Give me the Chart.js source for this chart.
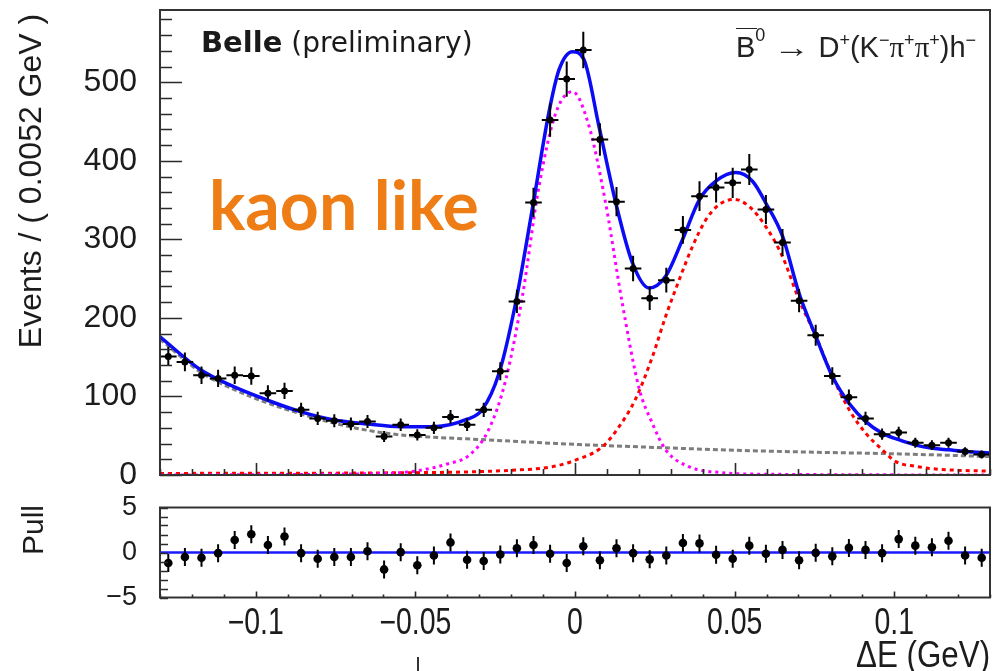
<!DOCTYPE html>
<html>
<head>
<meta charset="utf-8">
<script src="https://cdn.jsdelivr.net/npm/chart.js@4.4.1/dist/chart.umd.min.js"></script>
<style>
    body { margin: 0; background: #fff; }
    #page { position: relative; width: 997px; height: 671px; overflow: hidden; background: #fff;
            font-family: "Liberation Sans", Arial, sans-serif; color: #1c1c1c; }
    canvas { position: absolute; left: 0; }
    #mainCanvas { top: 0; }
    #pullCanvas { top: 495px; }
    .rot { position: absolute; white-space: nowrap; line-height: 1;
           transform: translate(-50%, -50%) rotate(-90deg); }
    #belle { position: absolute; left: 201px; top: 28px; font-family: "DejaVu Sans"; font-size: 28px; line-height: 1; white-space: nowrap; color: #1a1a1a; }
    #belle b { font-size: 29px; }
    #decay { position: absolute; left: 736px; top: 32.5px; font-size: 29px; line-height: 1; white-space: nowrap; color: #222; }
    #decay sup { font-size: 18px; vertical-align: 11px; line-height: 0; }
    #decay sup.hi { vertical-align: 16px; }
    #decay .arrow { display: inline-block; transform: scaleX(1.25); margin: 0 4px; }
    #decay .pi { font-family: "Liberation Serif"; }
    #decay .ovl { position: relative; }
    #decay .ovl::before { content: ""; position: absolute; left: 0; right: -2px; top: -3px; border-top: 1.5px solid #222; }
    #kaon { position: absolute; left: 209px; top: 170px; font-family: Lato; font-weight: 700; font-size: 68px; line-height: 1; color: #ED7D14; white-space: nowrap; }
    #xtitle { position: absolute; right: 7px; top: 636.5px; font-size: 36px; line-height: 1; white-space: nowrap;
              transform: scaleX(0.87); transform-origin: right top; }
    #stray { position: absolute; left: 417px; top: 657px; width: 1.5px; height: 14px; background: #333; }
</style>
</head>
<body>
<div id="page">
    <canvas id="mainCanvas" width="997" height="490"></canvas>
    <canvas id="pullCanvas" width="997" height="176"></canvas>

    <div class="rot" style="left:30px; top:181px; font-size:32px;">Events / ( 0.0052 GeV )</div>
    <div class="rot" style="left:33px; top:530px; font-size:30px;">Pull</div>

    <div id="belle"><b>Belle</b> (preliminary)</div>
    <div id="decay"><span class="ovl">B</span><sup class="hi">0</sup> <span class="arrow">&rarr;</span> D<sup>+</sup>(K<sup>&minus;</sup><span class="pi">&pi;</span><sup>+</sup><span class="pi">&pi;</span><sup>+</sup>)h<sup>&minus;</sup></div>
    <div id="kaon">kaon like</div>
    <div id="xtitle">&Delta;E (GeV)</div>
    <div id="stray"></div>
</div>

<script>
/* ---------------------------------------------------
   Data
---------------------------------------------------*/

const BIN_WIDTH = 0.0052;
const X_MIN = -0.13;
const X_MAX = 0.13;

const xTickValues = [-0.1, -0.05, 0, 0.05, 0.1];
const mainYTickValues = [0, 100, 200, 300, 400, 500];
const pullYTickValues = [-5, 0, 5];

const binCenters = [
    -0.1274, -0.1222, -0.1170, -0.1118, -0.1066, -0.1014, -0.0962, -0.0910, -0.0858, -0.0806,
    -0.0754, -0.0702, -0.0650, -0.0598, -0.0546, -0.0494, -0.0442, -0.0390, -0.0338, -0.0286,
    -0.0234, -0.0182, -0.0130, -0.0078, -0.0026, 0.0026, 0.0078, 0.0130, 0.0182, 0.0234,
    0.0286, 0.0338, 0.0390, 0.0442, 0.0494, 0.0546, 0.0598, 0.0650, 0.0702, 0.0754,
    0.0806, 0.0858, 0.0910, 0.0962, 0.1014, 0.1066, 0.1118, 0.1170, 0.1222, 0.1274
];

const events = [
    151, 144, 127, 123, 127, 126, 104, 107, 83, 72,
    69, 65, 68, 49, 64, 51, 60, 74, 64, 83,
    132, 221, 347, 452, 504, 541, 427, 348, 263, 225,
    248, 312, 355, 366, 372, 389, 338, 296, 222, 178,
    126, 99, 72, 52, 54, 41, 38, 41, 30, 26
];

const pulls = [
    -1.16, -0.50, -0.58, -0.07, 1.38, 2.03, 0.83, 1.78, -0.07, -0.69,
    -0.50, -0.50, 0.14, -1.88, 0.04, -1.41, -0.33, 1.12, -0.80, -0.94,
    -0.22, 0.47, 0.83, -0.14, -1.16, 0.69, -0.87, 0.47, -0.07, -0.76,
    -0.33, 1.05, 1.01, -0.25, -0.69, 0.76, -0.14, 0.29, -0.87, -0.04,
    -0.43, 0.51, 0.29, -0.07, 1.49, 0.76, 0.58, 1.30, -0.33, -0.58
];

// total fit (solid blue)
const totalX = [
    -0.13, -0.1173, -0.1069, -0.0965, -0.086, -0.0755, -0.0651, -0.0546, -0.0442, -0.0338,
    -0.0291, -0.0238, -0.0186, -0.0134, -0.0082, -0.005, -0.0008, 0.0028, 0.0075, 0.0128,
    0.018, 0.0232, 0.0284, 0.0336, 0.0389, 0.0441, 0.0504, 0.0556, 0.0598, 0.065,
    0.0702, 0.0755, 0.0807, 0.0859, 0.0911, 0.0963, 0.1016, 0.1068, 0.112, 0.1172,
    0.1224, 0.13
];
const totalY = [
    176, 134, 112.5, 95.5, 80.6, 70, 65, 61.5, 61.5, 71,
    83, 129.5, 219, 338, 461, 516, 539, 529, 444, 346,
    270, 238, 253, 299, 350, 374, 385, 374, 346, 304,
    231, 176, 125, 91, 68, 53, 44.6, 38, 34, 32,
    30, 28
];

// signal component (magenta dotted)
const signalX = [
    -0.13, -0.06, -0.05, -0.04, -0.0332, -0.027, -0.0217, -0.0165, -0.0113, -0.006,
    -0.0008, 0.0044, 0.0096, 0.0148, 0.0201, 0.0242, 0.0284, 0.0357, 0.0462, 0.06, 0.13
];
const signalY = [
    0, 2, 5, 14, 25, 58, 121, 227, 367, 461,
    488, 444, 346, 219, 110, 66, 32, 10.6, 3, 1, 0
];

// feed-across peak (red dashed)
const feedX = [
    -0.13, -0.05, -0.02, -0.0071, 0.0002, 0.0086, 0.0138, 0.019, 0.0242, 0.0284,
    0.0326, 0.0368, 0.041, 0.0451, 0.0498, 0.0545, 0.0598, 0.065, 0.0702, 0.0755,
    0.0807, 0.0859, 0.0911, 0.0963, 0.1005, 0.1068, 0.112, 0.12, 0.13
];
const feedY = [
    2, 3, 6, 10.6, 19, 36, 61.5, 97, 150, 202,
    248, 291, 325, 344, 351, 342, 316, 278, 223, 176,
    125, 83, 53, 32, 17, 11, 8, 6, 5
];

// combinatorial background (grey dashed)
const bkgX = [
    -0.13, -0.1173, -0.1069, -0.0965, -0.086, -0.0755, -0.0651, -0.0546, -0.0442, -0.0338,
    -0.0243, -0.01, 0.0, 0.0258, 0.05, 0.075, 0.1, 0.13
];
const bkgY = [
    173, 131, 109, 92, 78, 66, 57, 51, 48, 46,
    44, 41, 39, 35, 31.5, 29, 27, 23.5
];


/* ---------------------------------------------------
   Helpers & plugins
---------------------------------------------------*/

function toPoints(xs, ys) {
    return xs.map((x, i) => ({ x: x, y: ys[i] }));
}

function fixedTicks(values) {
    return scale => { scale.ticks = values.map(v => ({ value: v })); };
}

function formatTick(value) {
    const v = Number(value.toFixed(4));
    if (v === 0) return "0";
    return v < 0 ? "\u2212" + Math.abs(v) : String(v);
}

// ROOT-like frame with inward ticks
const rootFrame = {
    id: "rootFrame",
    afterDraw(chart, args, opts) {
        const { ctx, chartArea: a } = chart;
        const xs = chart.scales.x;
        const ys = chart.scales.y;
        ctx.save();
        ctx.strokeStyle = "#2a2a2a";
        ctx.lineWidth = 1.6;
        ctx.beginPath();

        const k0 = Math.ceil(xs.min / opts.xMinor - 1e-6);
        const k1 = Math.floor(xs.max / opts.xMinor + 1e-6);
        for (let k = k0; k <= k1; k++) {
            const v = k * opts.xMinor;
            const isMajor = Math.abs(v / opts.xMajor - Math.round(v / opts.xMajor)) < 1e-6;
            const px = Math.round(xs.getPixelForValue(v)) + 0.5;
            ctx.moveTo(px, a.bottom);
            ctx.lineTo(px, a.bottom - (isMajor ? opts.xMajorLen : opts.xMinorLen));
        }

        const j0 = Math.ceil(ys.min / opts.yMinor - 1e-6);
        const j1 = Math.floor(ys.max / opts.yMinor + 1e-6);
        for (let j = j0; j <= j1; j++) {
            const v = j * opts.yMinor;
            const isMajor = Math.abs(v / opts.yMajor - Math.round(v / opts.yMajor)) < 1e-6;
            const py = Math.round(ys.getPixelForValue(v)) + 0.5;
            ctx.moveTo(a.left, py);
            ctx.lineTo(a.left + (isMajor ? opts.yMajorLen : opts.yMinorLen), py);
        }
        ctx.stroke();

        ctx.lineWidth = 2;
        ctx.strokeStyle = "#333";
        ctx.strokeRect(a.left, a.top, a.right - a.left, a.bottom - a.top);
        ctx.restore();
    }
};

// error bars for the first dataset
const errorBars = {
    id: "errorBars",
    afterDatasetsDraw(chart, args, opts) {
        const { ctx } = chart;
        const xs = chart.scales.x;
        const ys = chart.scales.y;
        const data = chart.data.datasets[0].data;
        ctx.save();
        ctx.strokeStyle = "#000";
        ctx.lineWidth = 2;
        ctx.beginPath();
        data.forEach(p => {
            const err = opts.poisson ? Math.sqrt(p.y) : 1;
            const px = xs.getPixelForValue(p.x);
            ctx.moveTo(px, ys.getPixelForValue(p.y - err));
            ctx.lineTo(px, ys.getPixelForValue(p.y + err));
            if (opts.xErr) {
                const py = ys.getPixelForValue(p.y);
                ctx.moveTo(xs.getPixelForValue(p.x - opts.xErr), py);
                ctx.lineTo(xs.getPixelForValue(p.x + opts.xErr), py);
            }
        });
        ctx.stroke();
        ctx.restore();
    }
};

// x tick labels drawn narrow, like the ROOT canvas
const narrowXLabels = {
    id: "narrowXLabels",
    afterDraw(chart, args, opts) {
        if (!opts.enabled) return;
        const { ctx, chartArea: a } = chart;
        const xs = chart.scales.x;
        ctx.save();
        ctx.fillStyle = "#1c1c1c";
        ctx.font = opts.size + "px 'Liberation Sans'";
        ctx.textAlign = "center";
        ctx.textBaseline = "alphabetic";
        xs.ticks.forEach(t => {
            ctx.save();
            ctx.translate(xs.getPixelForValue(t.value), a.bottom + opts.offset);
            ctx.scale(opts.squeeze, 1);
            ctx.fillText(formatTick(t.value), 0, 0);
            ctx.restore();
        });
        ctx.restore();
    }
};

const tickFont = { family: "Liberation Sans", size: 32 };


/* ---------------------------------------------------
   Main panel
---------------------------------------------------*/

function curve(label, xs, ys, color, width, dash, order) {
    return {
        label: label,
        data: toPoints(xs, ys),
        showLine: true,
        borderColor: color,
        borderWidth: width,
        borderDash: dash,
        pointRadius: 0,
        cubicInterpolationMode: "monotone",
        order: order
    };
}

function renderMainPanel() {

    new Chart(document.getElementById("mainCanvas"), {
        type: "scatter",
        data: {
            datasets: [
                {
                    label: "Data",
                    data: toPoints(binCenters, events),
                    pointRadius: 3.5,
                    pointBackgroundColor: "#000",
                    pointBorderWidth: 0,
                    order: 0
                },
                curve("Total fit", totalX, totalY, "#0b0bf5", 3.5, [], 1),
                curve("Signal", signalX, signalY, "#ff00ff", 3, [3, 4], 2),
                curve("Feed-across", feedX, feedY, "#ff0000", 3, [4, 4], 3),
                curve("Background", bkgX, bkgY, "#7d7d7d", 3, [5, 3], 4)
            ]
        },
        options: {
            responsive: false,
            animation: false,
            events: [],
            layout: { padding: { top: 10, right: 7, bottom: 15, left: 0 } },
            plugins: {
                legend: { display: false },
                tooltip: { enabled: false },
                errorBars: { poisson: true, xErr: BIN_WIDTH / 2 },
                narrowXLabels: { enabled: false },
                rootFrame: {
                    xMajor: 0.05, xMinor: 0.01, xMajorLen: 12, xMinorLen: 6,
                    yMajor: 100, yMinor: 20, yMajorLen: 22, yMinorLen: 12
                }
            },
            scales: {
                x: { type: "linear", display: false, min: X_MIN, max: X_MAX },
                y: {
                    min: 0,
                    max: 592,
                    afterBuildTicks: fixedTicks(mainYTickValues),
                    afterFit: s => { s.width = 160; s.paddingTop = 0; s.paddingBottom = 0; },
                    grid: { display: false },
                    border: { display: false },
                    ticks: {
                        padding: 15,
                        color: "#1c1c1c",
                        font: tickFont
                    }
                }
            }
        },
        plugins: [errorBars, rootFrame, narrowXLabels]
    });

}


/* ---------------------------------------------------
   Pull panel
---------------------------------------------------*/

function renderPullPanel() {

    new Chart(document.getElementById("pullCanvas"), {
        type: "scatter",
        data: {
            datasets: [
                {
                    label: "Pull",
                    data: toPoints(binCenters, pulls),
                    pointRadius: 4.3,
                    pointBackgroundColor: "#000",
                    pointBorderWidth: 0,
                    order: 0
                },
                {
                    label: "Zero",
                    data: toPoints([X_MIN, X_MAX], [0, 0]),
                    showLine: true,
                    borderColor: "#1a1aff",
                    borderWidth: 2.5,
                    pointRadius: 0,
                    order: 1
                }
            ]
        },
        options: {
            responsive: false,
            animation: false,
            events: [],
            layout: { padding: { top: 12.5, right: 7, bottom: 0, left: 0 } },
            plugins: {
                legend: { display: false },
                tooltip: { enabled: false },
                errorBars: { poisson: false, xErr: 0 },
                narrowXLabels: { enabled: true, size: 36, squeeze: 0.79, offset: 36.5 },
                rootFrame: {
                    xMajor: 0.05, xMinor: 0.01, xMajorLen: 6, xMinorLen: 3,
                    yMajor: 5, yMinor: 1, yMajorLen: 8, yMinorLen: 8
                }
            },
            scales: {
                x: {
                    type: "linear",
                    min: X_MIN,
                    max: X_MAX,
                    afterBuildTicks: fixedTicks(xTickValues),
                    afterFit: s => { s.height = 73.5; s.paddingLeft = 0; s.paddingRight = 0; },
                    grid: { display: false },
                    border: { display: false },
                    ticks: { display: false }
                },
                y: {
                    min: -5,
                    max: 5,
                    afterBuildTicks: fixedTicks(pullYTickValues),
                    afterFit: s => { s.width = 160; s.paddingTop = 0; s.paddingBottom = 0; },
                    grid: { display: false },
                    border: { display: false },
                    ticks: {
                        padding: 15,
                        color: "#1c1c1c",
                        font: { family: "Liberation Sans", size: 27 },
                        callback: formatTick
                    }
                }
            }
        },
        plugins: [errorBars, rootFrame, narrowXLabels]
    });

}


/* ---------------------------------------------------
   Initialize
---------------------------------------------------*/

window.onload = function () {

    renderMainPanel();
    renderPullPanel();

};
</script>
</body>
</html>
